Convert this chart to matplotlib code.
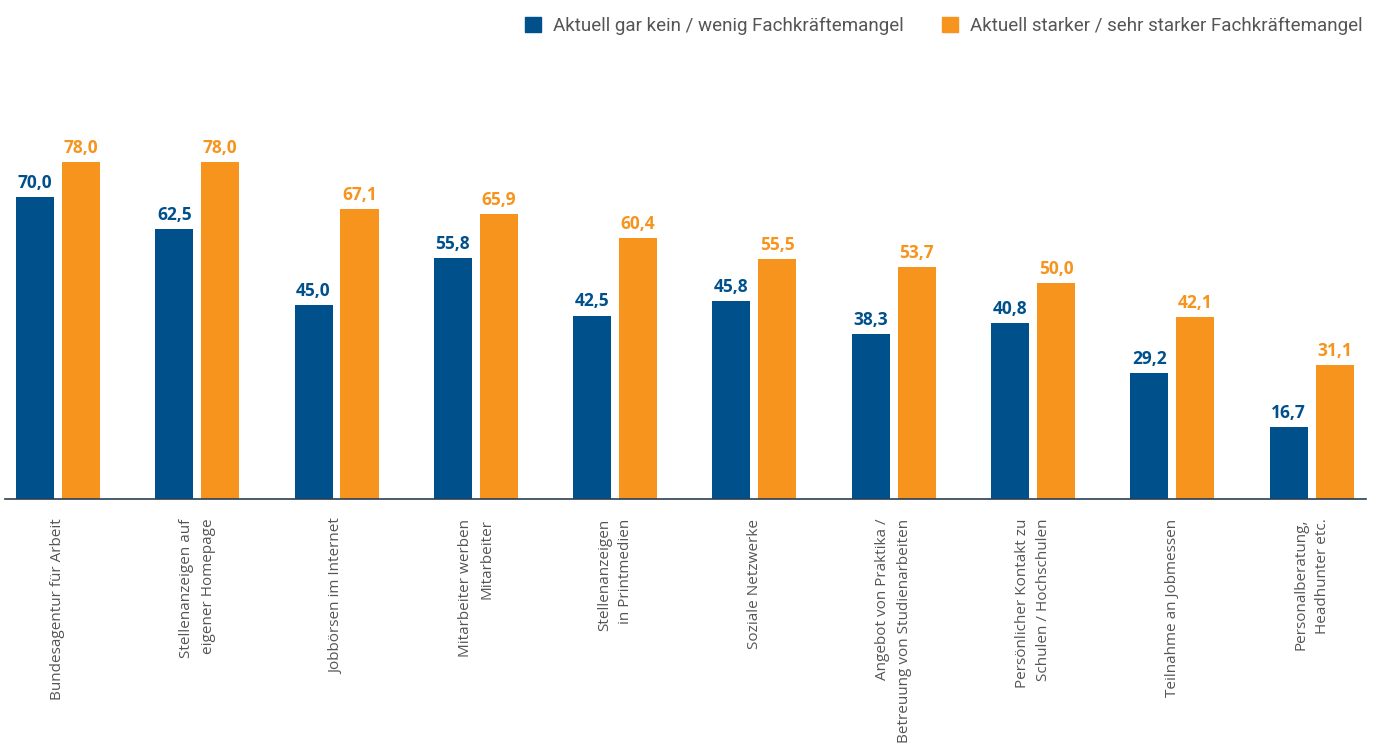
import matplotlib.pyplot as plt
import numpy as np
from matplotlib.patches import Patch

categories = [
    'Bundesagentur für Arbeit',
    'Stellenanzeigen auf\neigener Homepage',
    'Jobbörsen im Internet',
    'Mitarbeiter werben\nMitarbeiter',
    'Stellenanzeigen\nin Printmedien',
    'Soziale Netzwerke',
    'Angebot von Praktika /\nBetreuung von Studienarbeiten',
    'Persönlicher Kontakt zu\nSchulen / Hochschulen',
    'Teilnahme an Jobmessen',
    'Personalberatung,\nHeadhunter etc.',
]
wenig = [70.0, 62.5, 45.0, 55.8, 42.5, 45.8, 38.3, 40.8, 29.2, 16.7]
stark = [78.0, 78.0, 67.1, 65.9, 60.4, 55.5, 53.7, 50.0, 42.1, 31.1]
series_names = ['Aktuell gar kein / wenig Fachkräftemangel',
                'Aktuell starker / sehr starker Fachkräftemangel']

blue = '#00508c'
orange = '#f7941e'
grey = '#555555'

plt.rcParams['font.family'] = ['Open Sans', 'DejaVu Sans']

fig = plt.figure(figsize=(13.79, 7.45), dpi=100)
ax = fig.add_axes([0.0036, 0.330, 0.987, 0.5195])

x = np.arange(len(categories))
w = 0.273
off = 0.165
ax.bar(x - off, wenig, w, color=blue, zorder=2)
ax.bar(x + off, stark, w, color=orange, zorder=2)

def fmt(v):
    return f'{v:.1f}'.replace('.', ',')

for xi, v in zip(x, wenig):
    ax.text(xi - off, v + 1.2, fmt(v), ha='center', va='bottom',
            fontsize=12.5, fontweight='bold', color=blue)
for xi, v in zip(x, stark):
    ax.text(xi + off, v + 1.2, fmt(v), ha='center', va='bottom',
            fontsize=12.5, fontweight='bold', color=orange)

ax.set_xlim(-0.38, 9.39)
ax.set_ylim(0, 89.6)
ax.set_yticks([])
ax.set_xticks(x)
ax.set_xticklabels(categories, rotation=90, ha='center', va='top',
                   multialignment='right', fontsize=11, color=grey,
                   linespacing=1.6)
ax.tick_params(axis='x', length=0, pad=14)
for s in ['top', 'right', 'left']:
    ax.spines[s].set_visible(False)
ax.spines['bottom'].set_color('#2b3f55')
ax.spines['bottom'].set_linewidth(1.2)
ax.spines['bottom'].set_zorder(3)

handles = [Patch(color=blue), Patch(color=orange)]
fig.legend(handles, series_names, loc='upper right', ncol=2,
           bbox_to_anchor=(1.0, 1.0), frameon=False,
           prop={'family': 'Roboto', 'size': 13.5},
           labelcolor=grey, handlelength=0.85, handleheight=0.8,
           handletextpad=0.64, columnspacing=2.0)

fig.savefig('out.png', dpi=100)
